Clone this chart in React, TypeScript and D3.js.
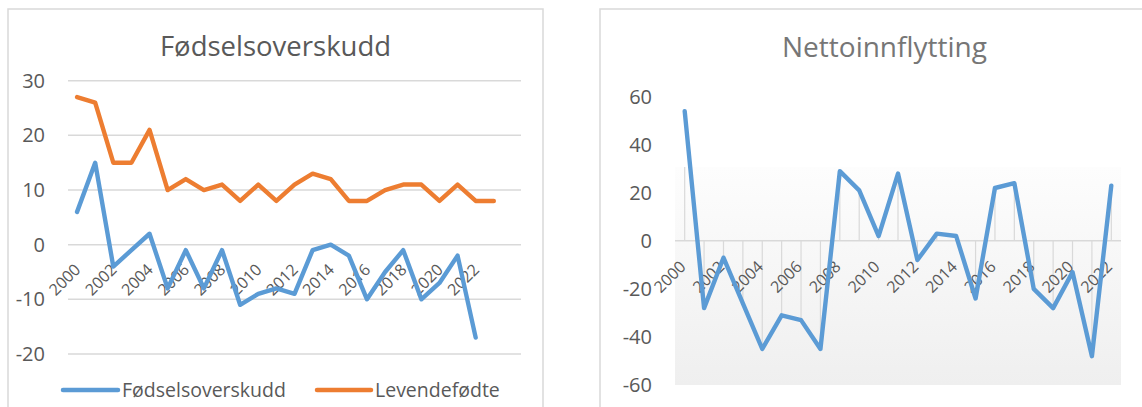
import React from "react";
import * as d3 from "d3";

const yearsLeft = ["2000","2001","2002","2003","2004","2005","2006","2007","2008","2009","2010","2011","2012","2013","2014","2015","2016","2017","2018","2019","2020","2021","2022","2023",""];
const fodselsoverskudd = [6,15,-4,-1,2,-8,-1,-8,-1,-11,-9,-8,-9,-1,0,-2,-10,-5,-1,-10,-7,-2,-17];
const levendefodte = [27,26,15,15,21,10,12,10,11,8,11,8,11,13,12,8,8,10,11,11,8,11,8,8];
const leftTicks = [30,20,10,0,-10,-20];

const yearsRight = ["2000","2001","2002","2003","2004","2005","2006","2007","2008","2009","2010","2011","2012","2013","2014","2015","2016","2017","2018","2019","2020","2021","2022"];
const nettoinnflytting = [54,-28,-7,-26,-45,-31,-33,-45,29,21,2,28,-8,3,2,-24,22,24,-20,-28,-13,-48,23];
const rightTicks = [60,40,20,0,-20,-40,-60];

const FONT = "'Open Sans', sans-serif";
const TXT = "#595959";
const GRID = "#d9d9d9";
const BLUE = "#5b9bd5";
const ORANGE = "#ed7d31";

function LeftChart() {
  const x = d3.scaleBand<string>().domain(yearsLeft).range([68, 521]);
  const y = d3.scaleLinear().domain([-20, 30]).range([354, 80.7]);
  const cx = (i: number) => (x(yearsLeft[i]) as number) + x.bandwidth() / 2;
  const line = d3.line<number>().x((_, i) => cx(i)).y((d) => y(d));
  return (
    <g>
      <rect x={8} y={9} width={535} height={420} fill="#fff" stroke={GRID} strokeWidth={1.5} />
      <text x={275.5} y={56} textAnchor="middle" fontSize={27.5} fill={TXT} fontFamily={FONT}>Fødselsoverskudd</text>
      {leftTicks.map((t) => (
        <g key={t}>
          <line x1={68} x2={521} y1={y(t)} y2={y(t)} stroke={GRID} strokeWidth={1.5} />
          <text x={45} y={y(t)} dy="0.35em" textAnchor="end" fontSize={20} fill={TXT} fontFamily={FONT}>{t}</text>
        </g>
      ))}
      {yearsLeft.map((yr, i) =>
        yr !== "" && +yr % 2 === 0 ? (
          <text key={yr} transform={`translate(${cx(i) + 4.5},${y(0) + 26}) rotate(-45)`} textAnchor="end" fontSize={16} fill={TXT} fontFamily={FONT}>{yr}</text>
        ) : null
      )}
      <path d={line(levendefodte) || ""} fill="none" stroke={ORANGE} strokeWidth={4.4} strokeLinejoin="round" strokeLinecap="round" />
      <path d={line(fodselsoverskudd) || ""} fill="none" stroke={BLUE} strokeWidth={4.4} strokeLinejoin="round" strokeLinecap="round" />
      <line x1={63} x2={118} y1={390} y2={390} stroke={BLUE} strokeWidth={4.5} strokeLinecap="round" />
      <text x={122} y={390} dy="0.35em" fontSize={19.5} fill={TXT} fontFamily={FONT}>Fødselsoverskudd</text>
      <line x1={317} x2={371} y1={390} y2={390} stroke={ORANGE} strokeWidth={4.5} strokeLinecap="round" />
      <text x={375} y={390} dy="0.35em" fontSize={19.5} fill={TXT} fontFamily={FONT}>Levendefødte</text>
    </g>
  );
}

function RightChart() {
  const x = d3.scaleBand<string>().domain(yearsRight).range([675, 1121]);
  const y = d3.scaleLinear().domain([-60, 60]).range([385, 96.7]);
  const cx = (i: number) => (x(yearsRight[i]) as number) + x.bandwidth() / 2;
  const line = d3.line<number>().x((_, i) => cx(i)).y((d) => y(d));
  const top = 167;
  return (
    <g>
      <defs>
        <linearGradient id="plotGrad" x1="0" y1="0" x2="0" y2="1">
          <stop offset="0" stopColor="#fdfdfd" />
          <stop offset="1" stopColor="#efefef" />
        </linearGradient>
      </defs>
      <rect x={600} y={9} width={600} height={420} fill="#fff" stroke={GRID} strokeWidth={1.5} />
      <text x={884.5} y={57} textAnchor="middle" fontSize={28} fill="#767676" fontFamily={FONT}>Nettoinnflytting</text>
      <rect x={675} y={top} width={446} height={385 - top} fill="url(#plotGrad)" />
      {rightTicks.map((t) => (
        <text key={t} x={652} y={y(t)} dy="0.35em" textAnchor="end" fontSize={20} fill={TXT} fontFamily={FONT}>{t}</text>
      ))}
      {nettoinnflytting.map((v, i) => (
        <line key={i} x1={cx(i)} x2={cx(i)} y1={y(0)} y2={Math.max(top, y(v))} stroke={GRID} strokeWidth={1.2} />
      ))}
      <line x1={675} x2={1121} y1={y(0)} y2={y(0)} stroke={GRID} strokeWidth={1.5} />
      {yearsRight.map((yr, i) =>
        +yr % 2 === 0 ? (
          <text key={yr} transform={`translate(${cx(i) + 2},${y(0) + 27}) rotate(-45)`} textAnchor="end" fontSize={16} fill={TXT} fontFamily={FONT}>{yr}</text>
        ) : null
      )}
      <path d={line(nettoinnflytting) || ""} fill="none" stroke={BLUE} strokeWidth={4.4} strokeLinejoin="round" strokeLinecap="round" />
    </g>
  );
}

export default function App() {
  return (
    <svg width={1142} height={407} style={{ position: "absolute", left: 0, top: 0, background: "#fff" }}>
      <rect x={0} y={0} width={1142} height={407} fill="#fff" />
      <LeftChart />
      <RightChart />
    </svg>
  );
}
